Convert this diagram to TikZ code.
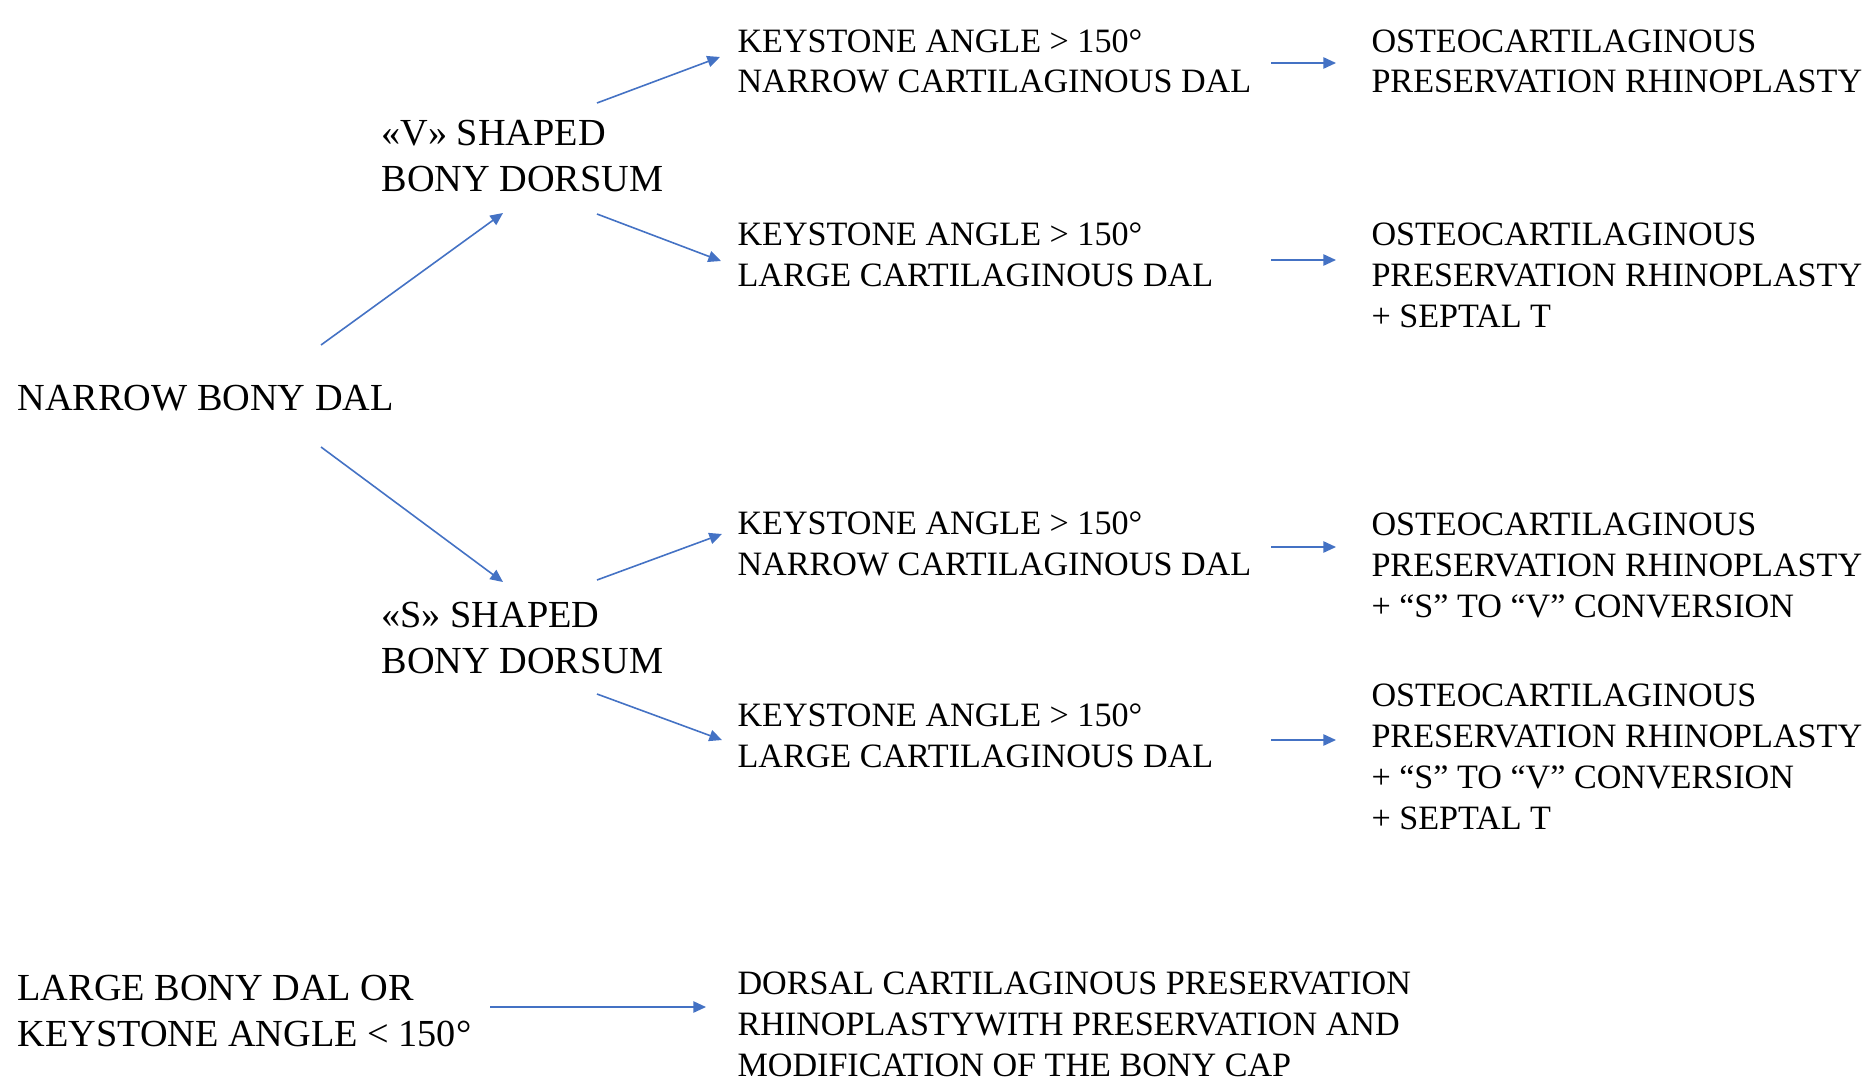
\documentclass[tikz,border=0pt]{standalone}
\usepackage{fontspec}
\setmainfont{Liberation Serif}
\usetikzlibrary{arrows.meta}

\definecolor{arrowblue}{RGB}{68,114,196}
\tikzset{every picture/.style={line width=0.75pt}}
\tikzset{
	big/.style={font=\fontsize{28.7}{34.5}\selectfont, inner sep=0pt, align=left, anchor=base west},
	small/.style={font=\fontsize{25.6}{30.7}\selectfont, inner sep=0pt, align=left, anchor=base west},
	arr/.style={draw=arrowblue, line width=1.2pt, -{Triangle[length=9.5pt,width=8.5pt]}}
}

\begin{document}
\begin{tikzpicture}[x=0.75pt,y=0.75pt,yscale=-1,xscale=1]
	\useasboundingbox (0,0) rectangle (1865,1081);

	% Text Node
	\node[big] (nbd) at (17,410) {NARROW BONY DAL};
	% Text Node
	\node[big] (vdor) at (381,191) {«V» SHAPED\\BONY DORSUM};
	% Text Node
	\node[big] (sdor) at (381,673) {«S» SHAPED\\BONY DORSUM};
	% Text Node
	\node[small] (k1) at (737,93) {KEYSTONE ANGLE > 150°\\NARROW CARTILAGINOUS DAL};
	% Text Node
	\node[small] (k2) at (737,286) {KEYSTONE ANGLE > 150°\\LARGE CARTILAGINOUS DAL};
	% Text Node
	\node[small] (k3) at (737,575) {KEYSTONE ANGLE > 150°\\NARROW CARTILAGINOUS DAL};
	% Text Node
	\node[small] (k4) at (737,767) {KEYSTONE ANGLE > 150°\\LARGE CARTILAGINOUS DAL};
	% Text Node
	\node[small] (o1) at (1371,93) {OSTEOCARTILAGINOUS\\PRESERVATION RHINOPLASTY};
	% Text Node
	\node[small] (o2) at (1371,327) {OSTEOCARTILAGINOUS\\PRESERVATION RHINOPLASTY\\+ SEPTAL T};
	% Text Node
	\node[small] (o3) at (1371,617) {OSTEOCARTILAGINOUS\\PRESERVATION RHINOPLASTY\\+ “S” TO “V” CONVERSION};
	% Text Node
	\node[small] (o4) at (1371,829) {OSTEOCARTILAGINOUS\\PRESERVATION RHINOPLASTY\\+ “S” TO “V” CONVERSION\\+ SEPTAL T};
	% Text Node
	\node[big] (lbd) at (17,1046) {LARGE BONY DAL OR\\KEYSTONE ANGLE < 150°};
	% Text Node
	\node[small] (dcp) at (737,1076) {DORSAL CARTILAGINOUS PRESERVATION\\RHINOPLASTYWITH PRESERVATION AND\\MODIFICATION OF THE BONY CAP};

	%Straight Lines
	\draw [arr] ([shift={(304,-65)}]nbd.base west) -- ([shift={(122,22)}]vdor.base west);
	\draw [arr] ([shift={(304,37)}]nbd.base west) -- ([shift={(122,-91)}]sdor.base west);
	%Straight Lines
	\draw [arr] ([shift={(216,-88)}]vdor.base west) -- ([shift={(-17,-36)}]k1.base west);
	\draw [arr] ([shift={(216,23)}]vdor.base west) -- ([shift={(-16,-25)}]k2.base west);
	\draw [arr] ([shift={(216,-93)}]sdor.base west) -- ([shift={(-15,-41)}]k3.base west);
	\draw [arr] ([shift={(216,21)}]sdor.base west) -- ([shift={(-15,-27)}]k4.base west);
	%Straight Lines
	\draw [arr] ([shift={(534,-30)}]k1.base west) -- ([shift={(-35,-30)}]o1.base west);
	\draw [arr] ([shift={(534,-26)}]k2.base west) -- ([shift={(-35,-67)}]o2.base west);
	\draw [arr] ([shift={(534,-28)}]k3.base west) -- ([shift={(-35,-70)}]o3.base west);
	\draw [arr] ([shift={(534,-27)}]k4.base west) -- ([shift={(-35,-89)}]o4.base west);
	%Straight Lines
	\draw [arr] ([shift={(473,-39)}]lbd.base west) -- ([shift={(-31,-69)}]dcp.base west);

\end{tikzpicture}
\end{document}
